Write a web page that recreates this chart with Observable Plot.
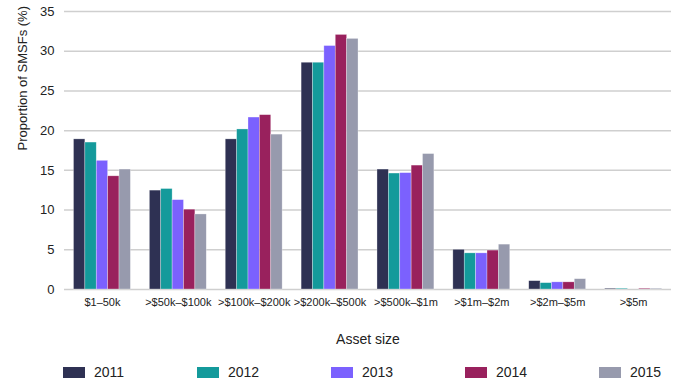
<!DOCTYPE html>
<html>
<head>
<meta charset="utf-8">
<script src="https://cdn.jsdelivr.net/npm/d3@7"></script>
<script src="https://cdn.jsdelivr.net/npm/@observablehq/plot@0.6"></script>
<style>
  body { margin: 0; background: #fff; font-family: "Liberation Sans", Arial, sans-serif; }
  #chart svg { display: block; }
  #legend { position: relative; height: 35px; width: 689px; }
  .item { position: absolute; top: 9px; display: flex; align-items: center; font-size: 14px; color: #222; }
  .sw { width: 22px; height: 11px; margin-right: 9px; }
</style>
</head>
<body>
<div id="chart"></div>
<div id="legend"></div>
<script>
const categories = ["$1–50k", ">$50k–$100k", ">$100k–$200k", ">$200k–$500k", ">$500k–$1m", ">$1m–$2m", ">$2m–$5m", ">$5m"];
const years = ["2011", "2012", "2013", "2014", "2015"];
const v2011 = [18.9, 12.45, 18.9, 28.55, 15.1, 5.0, 1.05, 0.1];
const v2012 = [18.5, 12.65, 20.15, 28.55, 14.6, 4.55, 0.8, 0.1];
const v2013 = [16.2, 11.25, 21.65, 30.65, 14.65, 4.55, 0.9, 0.0];
const v2014 = [14.25, 10.05, 21.95, 32.05, 15.6, 4.9, 0.9, 0.1];
const v2015 = [15.1, 9.45, 19.5, 31.55, 17.05, 5.65, 1.3, 0.1];
const yTicks = [0, 5, 10, 15, 20, 25, 30, 35];
const colors = ["#2e3153", "#149a9b", "#7b61fe", "#99215d", "#979aad"];

const series = [v2011, v2012, v2013, v2014, v2015];
const rows = [];
series.forEach((vals, j) => vals.forEach((v, i) => rows.push({category: categories[i], year: years[j], value: v})));

const W = 689, H = 355, mL = 64, mR = 18, mT = 11, mB = 66;
const step = (W - mL - mR) / categories.length;
const barW = step * 0.15;
const off = (step - barW * years.length) / 2;

const marks = [
  Plot.ruleY(yTicks, {stroke: "#cfcfcf", strokeWidth: 1.5}),
  Plot.text(yTicks, {y: d => d, text: d => String(d), frameAnchor: "left", dx: -10, textAnchor: "end", fontSize: 13, fill: "#222"}),
  Plot.text(["Proportion of SMSFs (%)"], {frameAnchor: "left", dx: -42, rotate: -90, fontSize: 13, fill: "#222"}),
  Plot.text(categories, {x: d => d, text: d => d, frameAnchor: "bottom", dy: 16, fontSize: 11, fill: "#222", style: "letter-spacing:-0.5px"}),
  Plot.text(["Asset size"], {frameAnchor: "bottom", dy: 54, fontSize: 14, fill: "#222"})
];
years.forEach((yr, j) => {
  marks.push(Plot.barY(rows.filter(d => d.year === yr), {
    x: "category", y: "value", fill: colors[j],
    stroke: "#ffffff", strokeOpacity: 0.5, strokeWidth: 0.6,
    insetLeft: off + j * barW, insetRight: step - off - (j + 1) * barW
  }));
});

const chart = Plot.plot({
  width: W, height: H,
  marginLeft: mL, marginRight: mR, marginTop: mT, marginBottom: mB,
  style: {fontFamily: "'Liberation Sans', Arial, sans-serif", background: "#fff"},
  x: {domain: categories, padding: 0, axis: null, round: false},
  y: {domain: [0, 35], axis: null},
  marks
});
document.getElementById("chart").appendChild(chart);

const legend = document.getElementById("legend");
years.forEach((yr, j) => {
  const it = document.createElement("div");
  it.className = "item";
  it.style.left = (63 + 134 * j) + "px";
  const sw = document.createElement("div");
  sw.className = "sw";
  sw.style.background = colors[j];
  const t = document.createElement("span");
  t.textContent = yr;
  it.appendChild(sw); it.appendChild(t);
  legend.appendChild(it);
});
</script>
</body>
</html>
